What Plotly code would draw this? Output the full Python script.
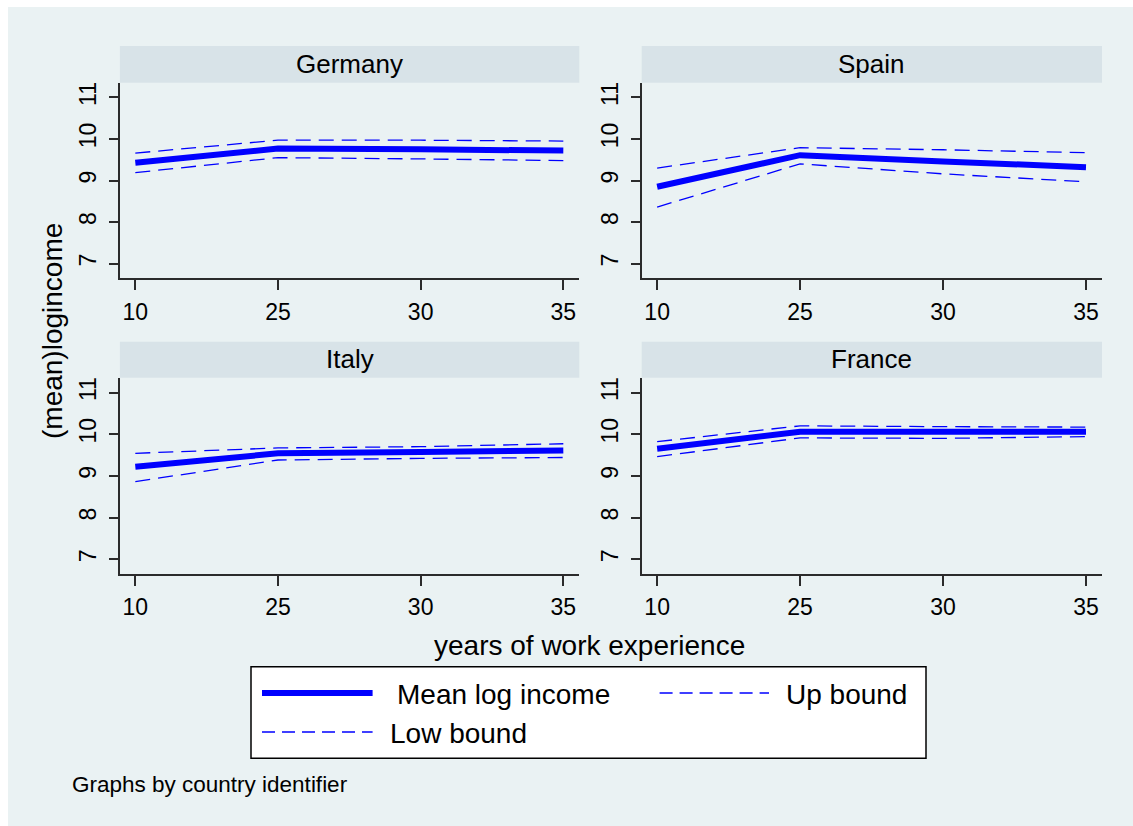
import plotly.graph_objects as go

W, H = 1133, 826

# Experience groups (evenly spaced categories) and country panels
experience = ["10", "25", "30", "35"]
countries = ["Germany", "Spain", "Italy", "France"]

mean_germany = [9.43, 9.77, 9.75, 9.72]
up_germany = [9.66, 9.97, 9.97, 9.95]
low_germany = [9.19, 9.55, 9.52, 9.48]

mean_spain = [8.85, 9.61, 9.46, 9.32]
up_spain = [9.30, 9.79, 9.74, 9.67]
low_spain = [8.36, 9.40, 9.16, 8.97]

mean_italy = [9.22, 9.54, 9.57, 9.61]
up_italy = [9.54, 9.67, 9.70, 9.77]
low_italy = [8.86, 9.38, 9.42, 9.44]

mean_france = [9.65, 10.06, 10.06, 10.06]
up_france = [9.82, 10.20, 10.18, 10.17]
low_france = [9.46, 9.91, 9.90, 9.94]

ytick_vals = [7, 8, 9, 10, 11]
grid_vals = [8, 9, 10]

series = {
    "Germany": (mean_germany, up_germany, low_germany),
    "Spain": (mean_spain, up_spain, low_spain),
    "Italy": (mean_italy, up_italy, low_italy),
    "France": (mean_france, up_france, low_france),
}

FONT = "Liberation Sans, Arial, Helvetica, sans-serif"
BLUE = "#0000FF"
AXIS = "#2b2b2b"
BG = "#EAF2F3"
STRIP = "#D8E3E8"
DASH_PLOT = "15px,8px"
DASH_KEY = "13px,7px"


def px(x):
    return x / W


def py(y):
    return 1 - y / H


# panel geometry in pixels: (x0, x1) per column, (plot top, plot bottom, strip top) per row
cols = [(119.9, 579.3), (641.7, 1102.0)]
rows = [(82.7, 278.3, 46.0), (377.7, 574.0, 341.7)]

fig = go.Figure()
layout = dict(
    width=W,
    height=H,
    margin=dict(l=0, r=0, t=0, b=0),
    paper_bgcolor="white",
    plot_bgcolor="white",
    showlegend=False,
    font=dict(family=FONT, color="black"),
)

shapes = [
    dict(type="rect", xref="paper", yref="paper", x0=px(8), x1=1, y0=0, y1=py(7),
         fillcolor=BG, line=dict(width=0), layer="below"),
]
annotations = []

for i, country in enumerate(countries):
    r, c = divmod(i, 2)
    k = i + 1
    xs, xe = cols[c]
    yt, yb, ys = rows[r]
    mean_v, up_v, low_v = series[country]

    fig.add_trace(go.Scatter(x=experience, y=up_v, mode="lines", name="Up bound",
                             line=dict(color=BLUE, width=1.3, dash=DASH_PLOT),
                             xaxis=f"x{k}", yaxis=f"y{k}"))
    fig.add_trace(go.Scatter(x=experience, y=low_v, mode="lines", name="Low bound",
                             line=dict(color=BLUE, width=1.3, dash=DASH_PLOT),
                             xaxis=f"x{k}", yaxis=f"y{k}"))
    fig.add_trace(go.Scatter(x=experience, y=mean_v, mode="lines", name="Mean log income",
                             line=dict(color=BLUE, width=6),
                             xaxis=f"x{k}", yaxis=f"y{k}"))

    layout[f"xaxis{k}"] = dict(
        domain=[px(xs), px(xe)], anchor=f"y{k}", type="category",
        categoryorder="array", categoryarray=experience,
        range=[-0.108, 3.112], showgrid=False, zeroline=False,
        showline=True, linecolor=AXIS, linewidth=1.5,
        ticks="outside", ticklen=10, tickwidth=1.5, tickcolor=AXIS,
        tickfont=dict(size=23, family=FONT, color="black"),
        ticklabelstandoff=2,
    )
    layout[f"yaxis{k}"] = dict(
        domain=[py(yb), py(yt)], anchor=f"x{k}",
        range=[6.645, 11.355], tickvals=ytick_vals, showgrid=False, zeroline=False,
        showline=True, linecolor=AXIS, linewidth=1.5,
        ticks="outside", ticklen=9, tickwidth=1.5, tickcolor=AXIS,
        tickangle=-90, tickfont=dict(size=23, family=FONT, color="black"),
        ticklabelstandoff=4,
        minor=dict(tickvals=grid_vals, showgrid=True, gridcolor=BG, gridwidth=2, ticks=""),
    )

    # panel title strip
    shapes.append(dict(type="rect", xref="paper", yref="paper",
                       x0=px(xs), x1=px(xe), y0=py(yt), y1=py(ys),
                       fillcolor=STRIP, line=dict(width=0), layer="below"))
    annotations.append(dict(text=country, xref="paper", yref="paper",
                            x=px((xs + xe) / 2), y=py((ys + yt) / 2 - 0.5),
                            xanchor="center", yanchor="middle", showarrow=False,
                            font=dict(size=26, family=FONT, color="black")))

# common axis titles and note
annotations.append(dict(text="years of work experience", xref="paper", yref="paper",
                        x=px(589), y=py(645), xanchor="center", yanchor="middle",
                        showarrow=False, font=dict(size=28, family=FONT, color="black")))
annotations.append(dict(text="(mean)logincome", xref="paper", yref="paper",
                        x=px(52), y=py(331), xanchor="center", yanchor="middle",
                        textangle=-90, showarrow=False,
                        font=dict(size=28, family=FONT, color="black")))
annotations.append(dict(text="Graphs by country identifier", xref="paper", yref="paper",
                        x=px(70), y=py(784), xanchor="left", yanchor="middle",
                        showarrow=False, font=dict(size=22.5, family=FONT, color="black")))

# legend box
shapes.append(dict(type="rect", xref="paper", yref="paper",
                   x0=px(251), x1=px(926), y0=py(758.3), y1=py(666.7),
                   fillcolor="white", line=dict(color="black", width=1.5), layer="below"))
legend_items = [
    ("Mean log income", 262, 372.6, 693, 395.4, dict(color=BLUE, width=6)),
    ("Up bound", 659.6, 769, 693, 783.8, dict(color=BLUE, width=1.3, dash=DASH_KEY)),
    ("Low bound", 262, 372.6, 732, 388.0, dict(color=BLUE, width=1.3, dash=DASH_KEY)),
]
for label, lx0, lx1, ly, tx, lstyle in legend_items:
    shapes.append(dict(type="line", xref="paper", yref="paper",
                       x0=px(lx0), x1=px(lx1), y0=py(ly), y1=py(ly),
                       line=lstyle, layer="below"))
    annotations.append(dict(text=label, xref="paper", yref="paper",
                            x=px(tx), y=py(ly + 1), xanchor="left", yanchor="middle",
                            showarrow=False, font=dict(size=28, family=FONT, color="black")))

layout["shapes"] = shapes
layout["annotations"] = annotations
fig.update_layout(**layout)

fig.write_html("out.html", config={"displayModeBar": False})
